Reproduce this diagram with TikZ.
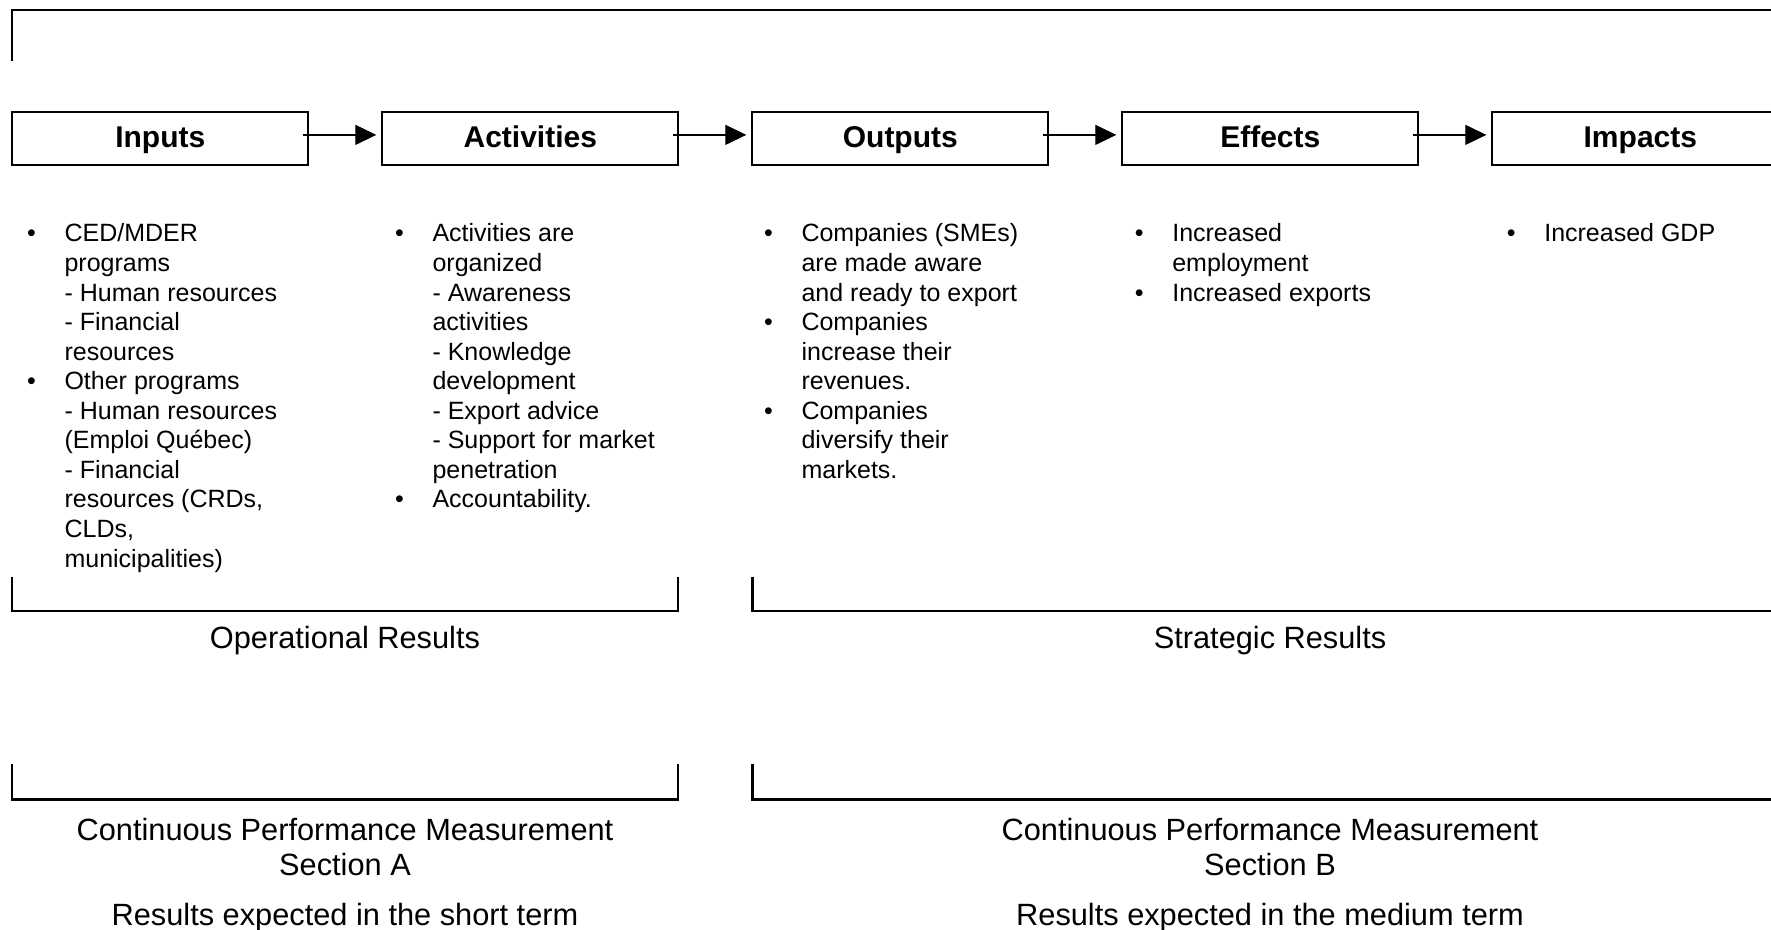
\documentclass[tikz,border=0pt]{standalone}
\usepackage{fontspec}
\setmainfont{Liberation Sans}
\usetikzlibrary{positioning,arrows.meta}
\newcommand{\bul}{\llap{\makebox[15pt][l]{\textbullet}}}

\begin{document}
\begin{tikzpicture}[x=0.4pt,y=-0.4pt]
\tikzstyle{stage}=[draw,line width=0.9pt,minimum width=118.4pt,minimum height=21.3pt,inner sep=0pt,outer sep=0pt,text height=9pt,text depth=2.1pt,font=\bfseries\fontsize{12}{14}\selectfont]
\tikzstyle{list}=[anchor=north west,align=left,inner sep=0pt,font=\fontsize{10}{11.82}\selectfont]
\tikzstyle{caption}=[anchor=base,align=center,inner sep=0pt,font=\fontsize{12.3}{14}\selectfont]
\tikzstyle{flow}=[line width=0.5pt,-{Triangle[length=8.4pt,width=8pt]},shorten <=-2.2pt,shorten >=2.4pt]
\tikzstyle{frame}=[line width=0.9pt]

\useasboundingbox (0,0) rectangle (1771,930);
\clip (0,0) rectangle (1771,930);

% top frame
\draw[frame] (12.2,61) -- (12.2,9.7) -- (1800,9.7);

\node[stage] (in) at (160.3,138.4) {Inputs};
\node[stage,right=29.6pt of in] (act) {Activities};
\node[stage,right=29.6pt of act] (out) {Outputs};
\node[stage,right=29.6pt of out] (eff) {Effects};
\node[stage,right=29.6pt of eff] (imp) {Impacts};

\foreach \a/\b in {in/act,act/out,out/eff,eff/imp}
  \draw[flow] ([yshift=1.4pt]\a.east) -- ([yshift=1.4pt]\b.west);

\node[list] (inlist) at ([shift={(20.7pt,-22.3pt)}]in.south west) {\strut\bul CED/MDER\\
programs\\
- Human resources\\
- Financial\\
resources\\
\bul Other programs\\
- Human resources\\
(Emploi Québec)\\
- Financial\\
resources (CRDs,\\
CLDs,\\
municipalities)};
\node[list] (actlist) at ([shift={(19.9pt,-22.3pt)}]act.south west) {\strut\bul Activities are\\
organized\\
- Awareness\\
activities\\
- Knowledge\\
development\\
- Export advice\\
- Support for market\\
penetration\\
\bul Accountability.};
\node[list] (outlist) at ([shift={(19.5pt,-22.3pt)}]out.south west) {\strut\bul Companies (SMEs)\\
are made aware\\
and ready to export\\
\bul Companies\\
increase their\\
revenues.\\
\bul Companies\\
diversify their\\
markets.};
\node[list] (efflist) at ([shift={(19.8pt,-22.3pt)}]eff.south west) {\strut\bul Increased\\
employment\\
\bul Increased exports};
\node[list] (implist) at ([shift={(20.6pt,-22.3pt)}]imp.south west) {\strut\bul Increased GDP};

% brackets
\draw[frame] (12.2,577) -- (12.2,610.7) -- (678.3,610.7) -- (678.3,577);
\draw[frame] (752.5,577) -- (752.5,610.7) -- (1800,610.7);
\draw[frame] (12.2,764) -- (12.2,799.5) -- (678.3,799.5) -- (678.3,764);
\draw[frame] (752.5,764) -- (752.5,799.5) -- (1800,799.5);

\node[caption] (opres) at (345,649) {Operational Results};
\node[caption] (strres) at (1270,649) {Strategic Results};
\node[caption] (cpma) at (345,925) {Continuous Performance Measurement\\Section A\\[6pt]Results expected in the short term};
\node[caption] (cpmb) at (1270,925) {Continuous Performance Measurement\\Section B\\[6pt]Results expected in the medium term};
\end{tikzpicture}
\end{document}
